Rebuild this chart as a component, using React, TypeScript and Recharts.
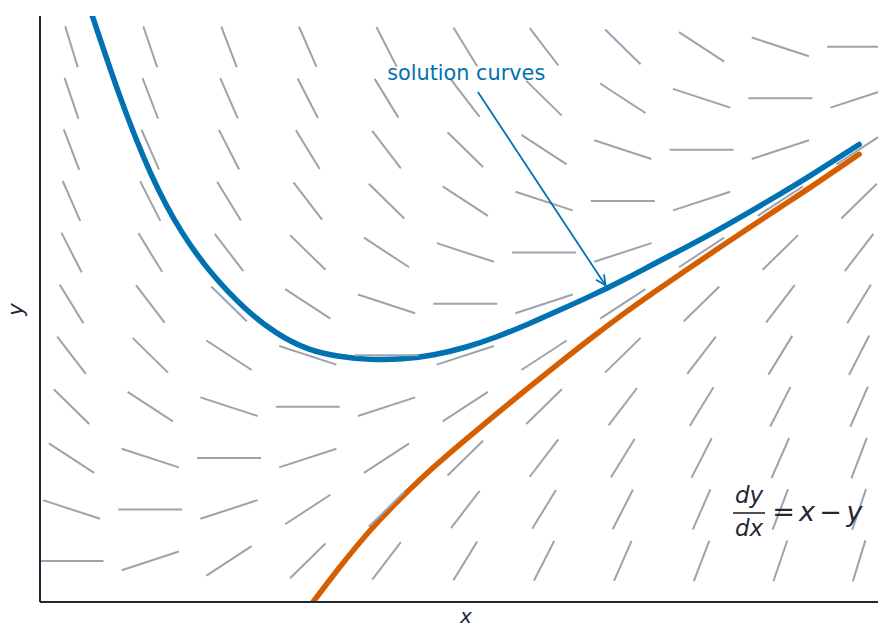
import { ComposedChart, Line, XAxis, YAxis, ReferenceLine } from 'recharts'

// ============================================
// Data
// ============================================

// slope field grid (data units)
const gridX = [-2, -1.5, -1, -0.5, 0, 0.5, 1, 1.5, 2, 2.5, 3]
const gridY = [3, 2.5, 2, 1.5, 1, 0.5, 0, -0.5, -1, -1.5, -2]

// slope of each segment, rows follow gridY, columns follow gridX
const slopeRows = [
  [-5, -4.5, -4, -3.5, -3, -2.5, -2, -1.5, -1, -0.5, 0],
  [-4.5, -4, -3.5, -3, -2.5, -2, -1.5, -1, -0.5, 0, 0.5],
  [-4, -3.5, -3, -2.5, -2, -1.5, -1, -0.5, 0, 0.5, 1],
  [-3.5, -3, -2.5, -2, -1.5, -1, -0.5, 0, 0.5, 1, 1.5],
  [-3, -2.5, -2, -1.5, -1, -0.5, 0, 0.5, 1, 1.5, 2],
  [-2.5, -2, -1.5, -1, -0.5, 0, 0.5, 1, 1.5, 2, 2.5],
  [-2, -1.5, -1, -0.5, 0, 0.5, 1, 1.5, 2, 2.5, 3],
  [-1.5, -1, -0.5, 0, 0.5, 1, 1.5, 2, 2.5, 3, 3.5],
  [-1, -0.5, 0, 0.5, 1, 1.5, 2, 2.5, 3, 3.5, 4],
  [-0.5, 0, 0.5, 1, 1.5, 2, 2.5, 3, 3.5, 4, 4.5],
  [0, 0.5, 1, 1.5, 2, 2.5, 3, 3.5, 4, 4.5, 5],
]

// upper solution curve (blue)
const blueX = [-1.9, -1.7, -1.5, -1.3, -1.1, -0.9, -0.7, -0.5, -0.3, -0.1, 0.1, 0.3, 0.5, 0.7, 0.9, 1.1, 1.3, 1.5, 1.7, 1.9, 2.1, 2.3, 2.5, 2.7, 3.0]
const blueY = [3.45, 2.55, 1.78, 1.2, 0.78, 0.46, 0.22, 0.065, -0.01, -0.04, -0.035, 0.005, 0.078, 0.18, 0.305, 0.44, 0.58, 0.73, 0.89, 1.05, 1.215, 1.39, 1.57, 1.757, 2.05]

// lower solution curve (orange)
const orangeX = [-0.5, -0.3, -0.1, 0.1, 0.3, 0.5, 0.7, 0.9, 1.1, 1.3, 1.5, 1.7, 1.9, 2.1, 2.3, 2.5, 2.7, 3.0]
const orangeY = [-2.467, -2.067, -1.697, -1.377, -1.087, -0.822, -0.567, -0.317, -0.072, 0.168, 0.398, 0.616, 0.826, 1.033, 1.238, 1.441, 1.643, 1.955]

// annotation arrow: from label to curve
const arrowFrom = { x: 0.58, y: 2.56 }
const arrowTo = { x: 1.39, y: 0.68 }

// ============================================
// Styles
// ============================================

const BLUE = '#0072B2'
const ORANGE = '#D55E00'
const GRAY = '#9ca3af'
const DARK = '#222833'
const FONT = '"DejaVu Sans", sans-serif'
const HALF = 0.203 // half length of a slope segment, data units

const blueData = blueX.map((x, i) => ({ x, y: blueY[i] }))
const orangeData = orangeX.map((x, i) => ({ x, y: orangeY[i] }))

const segments = gridY.flatMap((y, r) =>
  gridX.map((x, c) => {
    const s = slopeRows[r][c]
    const n = Math.sqrt(1 + s * s)
    const dx = HALF / n
    const dy = (HALF * s) / n
    return [
      { x: x - dx, y: y - dy },
      { x: x + dx, y: y + dy },
    ]
  })
)

// arrow + label drawn in pixel space from the reference line end points
function ArrowShape(props: any) {
  const { x1, y1, x2, y2 } = props
  const ang = Math.atan2(y2 - y1, x2 - x1)
  const len = 11
  const spread = 0.45
  const a1x = x2 - len * Math.cos(ang - spread)
  const a1y = y2 - len * Math.sin(ang - spread)
  const a2x = x2 - len * Math.cos(ang + spread)
  const a2y = y2 - len * Math.sin(ang + spread)
  return (
    <g>
      <line x1={x1} y1={y1} x2={x2} y2={y2} stroke={BLUE} strokeWidth={1.8} />
      <polyline
        points={`${a1x},${a1y} ${x2},${y2} ${a2x},${a2y}`}
        fill="none"
        stroke={BLUE}
        strokeWidth={1.8}
      />
      <text
        x={x1 - 11.7}
        y={y1 - 12.2}
        textAnchor="middle"
        fontFamily={FONT}
        fontSize={20.8}
        fill={BLUE}
      >
        solution curves
      </text>
    </g>
  )
}

export default function App() {
  return (
    <div style={{ position: 'absolute', left: 0, top: 0, width: 878, height: 628, background: '#fff' }}>
      <ComposedChart width={878} height={628} margin={{ top: 16, right: 0, bottom: 0, left: 0 }}>
        <XAxis
          dataKey="x"
          type="number"
          domain={[-2.2, 3.12]}
          allowDataOverflow
          tick={false}
          tickLine={false}
          height={26}
          axisLine={{ stroke: DARK, strokeWidth: 2 }}
        />
        <YAxis
          type="number"
          domain={[-2.4, 3.3]}
          allowDataOverflow
          tick={false}
          tickLine={false}
          width={40}
          axisLine={{ stroke: DARK, strokeWidth: 2 }}
        />
        <Line
          data={blueData}
          dataKey="y"
          type="natural"
          stroke={BLUE}
          strokeWidth={5.5}
          strokeLinecap="round"
          dot={false}
          activeDot={false}
          isAnimationActive={false}
        />
        <Line
          data={orangeData}
          dataKey="y"
          type="natural"
          stroke={ORANGE}
          strokeWidth={5.5}
          strokeLinecap="round"
          dot={false}
          activeDot={false}
          isAnimationActive={false}
        />
        {segments.map((seg, i) => (
          <Line
            key={`seg-${i}`}
            data={seg}
            dataKey="y"
            type="linear"
            stroke={GRAY}
            strokeWidth={2}
            dot={false}
            activeDot={false}
            isAnimationActive={false}
          />
        ))}
        <ReferenceLine
          segment={[arrowFrom, arrowTo]}
          ifOverflow="visible"
          shape={ArrowShape}
        />
      </ComposedChart>

      {/* axis labels and equation */}
      <svg
        width={878}
        height={628}
        style={{ position: 'absolute', left: 0, top: 0, pointerEvents: 'none' }}
      >
        <text x={466} y={623} textAnchor="middle" fontFamily={FONT} fontStyle="italic" fontSize={20} fill={DARK}>
          x
        </text>
        <text
          x={23}
          y={309.5}
          transform="rotate(-90, 23, 309.5)"
          textAnchor="middle"
          fontFamily={FONT}
          fontStyle="italic"
          fontSize={21}
          fill={DARK}
        >
          y
        </text>
        <g fontFamily={FONT} fill={DARK}>
          <text x={749} y={503} textAnchor="middle" fontStyle="italic" fontSize={23}>dy</text>
          <line x1={733} x2={765} y1={513} y2={513} stroke={DARK} strokeWidth={1.6} />
          <text x={749} y={536} textAnchor="middle" fontStyle="italic" fontSize={23}>dx</text>
          <text x={783.5} y={521} textAnchor="middle" fontSize={27}>=</text>
          <text x={807} y={521} textAnchor="middle" fontStyle="italic" fontSize={27}>x</text>
          <text x={830.5} y={521} textAnchor="middle" fontSize={27}>−</text>
          <text x={854.5} y={521} textAnchor="middle" fontStyle="italic" fontSize={27}>y</text>
        </g>
      </svg>
    </div>
  )
}
